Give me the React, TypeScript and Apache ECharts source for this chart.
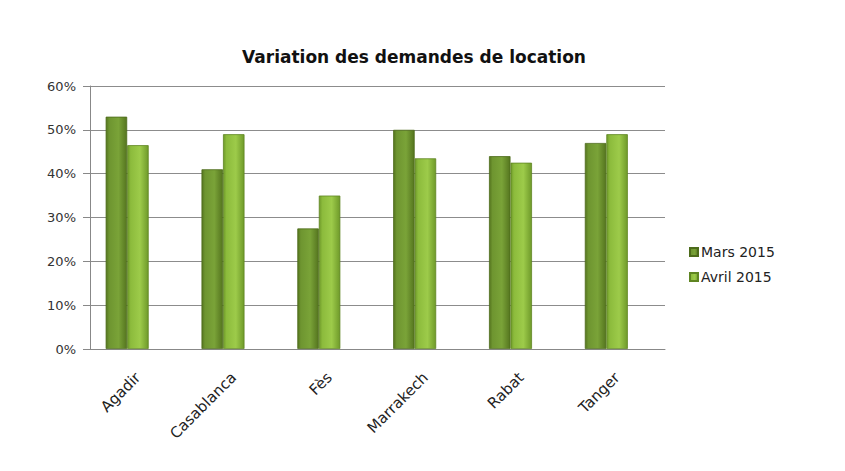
import React, { useEffect, useRef } from "react";
import * as echarts from "echarts";

const categories = ["Agadir", "Casablanca", "Fès", "Marrakech", "Rabat", "Tanger"];
const marsValues = [53, 41, 27.5, 50, 44, 47];
const avrilValues = [46.5, 49, 35, 43.5, 42.5, 49];
const yTicks = [0, 10, 20, 30, 40, 50, 60];

const FONT = "DejaVu Sans";

function grad(dark: string, mid: string, light: string) {
  return new echarts.graphic.LinearGradient(0, 0, 1, 0, [
    { offset: 0, color: dark },
    { offset: 0.15, color: mid },
    { offset: 0.6, color: light },
    { offset: 1, color: dark },
  ]);
}

export default function App() {
  const ref = useRef<HTMLDivElement>(null);
  useEffect(() => {
    if (!ref.current) return;
    const chart = echarts.init(ref.current, undefined, { renderer: "svg" });
    chart.setOption({
      animation: false,
      backgroundColor: "#ffffff",
      title: {
        text: "Variation des demandes de location",
        left: 401,
        textAlign: "center",
        top: 35,
        textStyle: { fontFamily: FONT, fontSize: 17, fontWeight: "bold", color: "#111" },
      },
      legend: {
        data: ["Mars 2015", "Avril 2015"],
        orient: "vertical",
        left: 676,
        top: 232,
        itemWidth: 8,
        itemHeight: 8,
        itemGap: 11,
        icon: "rect",
        textStyle: { fontFamily: FONT, fontSize: 14, color: "#222", padding: [0, 0, 0, -2] },
      },
      grid: { left: 82, right: 172, top: 78, bottom: 114 },
      xAxis: {
        type: "category",
        data: categories,
        axisLine: { lineStyle: { color: "#888", width: 1 } },
        axisTick: { show: false },
        axisLabel: {
          rotate: 45,
          margin: 26,
          fontFamily: FONT,
          fontSize: 15,
          color: "#222",
          interval: 0,
        },
      },
      yAxis: {
        type: "value",
        min: 0,
        max: 60,
        interval: 10,
        axisLine: { show: true, lineStyle: { color: "#888" } },
        axisTick: { show: true, length: 7, lineStyle: { color: "#888" } },
        splitLine: { lineStyle: { color: "#8c8c8c", width: 1 } },
        axisLabel: {
          margin: 14,
          fontFamily: FONT,
          fontSize: 13,
          color: "#333",
          formatter: (v: number) => (yTicks.includes(v) ? v + "%" : ""),
        },
      },
      series: [
        {
          name: "Mars 2015",
          type: "bar",
          data: marsValues,
          barWidth: 21.5,
          barGap: "0%",
          itemStyle: {
            color: grad("#55751f", "#6e9530", "#7aa338"),
            borderColor: "#4d6b1b",
            borderWidth: 0.8,
          },
        },
        {
          name: "Avril 2015",
          type: "bar",
          data: avrilValues,
          barWidth: 21.5,
          barGap: "0%",
          itemStyle: {
            color: grad("#6f9a2a", "#8cbb3c", "#9dcb4a"),
            borderColor: "#5f8522",
            borderWidth: 0.8,
          },
        },
        {
          name: "spacer",
          type: "bar",
          data: [],
          barWidth: 21.5,
          barGap: "0%",
        },
      ],
    });
    return () => chart.dispose();
  }, []);
  return <div ref={ref} style={{ width: 829, height: 455 }} />;
}
